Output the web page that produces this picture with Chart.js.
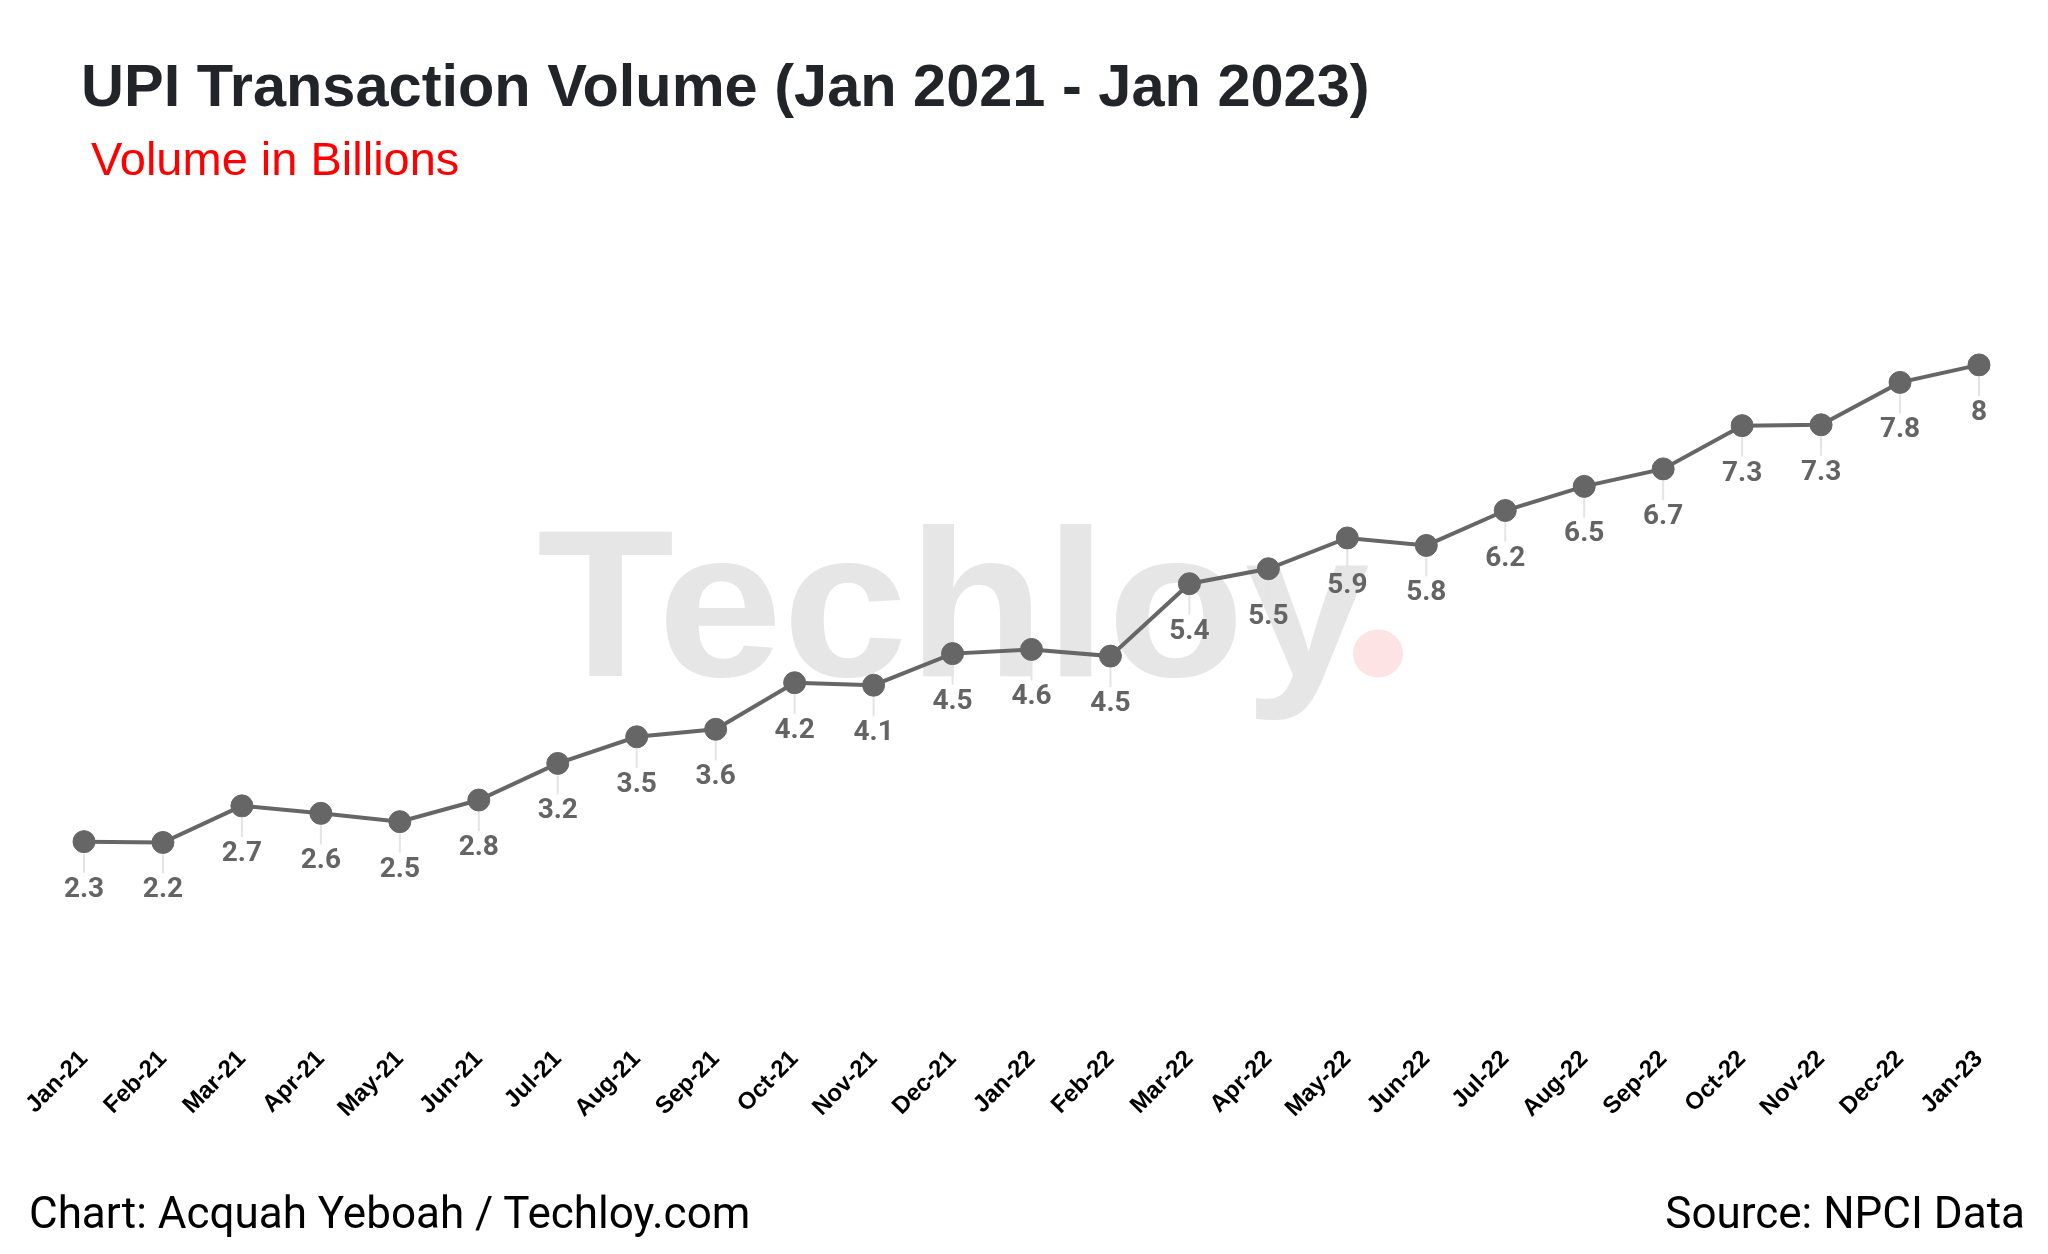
<!DOCTYPE html>
<html>
<head>
<meta charset="utf-8">
<script src="https://cdn.jsdelivr.net/npm/chart.js@4.4.0/dist/chart.umd.min.js"></script>
<style>
html,body{margin:0;padding:0;background:#fff;}
#wrap{position:relative;width:2048px;height:1254px;overflow:hidden;background:#fff;}
#c{position:absolute;left:0;top:0;}
.t{position:absolute;white-space:nowrap;line-height:1;}
#title{left:81px;top:51px;font:bold 59.5px "Liberation Sans",Arial,sans-serif;color:#212529;}
#sub{left:91px;top:131px;font:47px "Liberation Sans",Arial,sans-serif;color:#ff0000;}
#credit{left:29px;top:1187px;font:44px Roboto,sans-serif;color:#000;}
#source{right:23px;top:1187px;font:44px Roboto,sans-serif;color:#000;}
</style>
</head>
<body>
<div id="wrap">
  <canvas id="c" width="2048" height="1254"></canvas>
  <div class="t" id="title">UPI Transaction Volume (Jan 2021 - Jan 2023)</div>
  <div class="t" id="sub">Volume in Billions</div>
  <div class="t" id="credit">Chart: Acquah Yeboah / Techloy.com</div>
  <div class="t" id="source">Source: NPCI Data</div>
</div>
<script>
const months = ['Jan-21','Feb-21','Mar-21','Apr-21','May-21','Jun-21','Jul-21','Aug-21','Sep-21','Oct-21','Nov-21','Dec-21',
                'Jan-22','Feb-22','Mar-22','Apr-22','May-22','Jun-22','Jul-22','Aug-22','Sep-22','Oct-22','Nov-22','Dec-22','Jan-23'];
const volumes = [2.30, 2.29, 2.73, 2.64, 2.54, 2.80, 3.24, 3.56, 3.65, 4.21, 4.18, 4.56,
                 4.61, 4.53, 5.40, 5.58, 5.95, 5.86, 6.28, 6.57, 6.78, 7.30, 7.31, 7.82, 8.03];
const valueLabels = ['2.3','2.2','2.7','2.6','2.5','2.8','3.2','3.5','3.6','4.2','4.1','4.5',
                     '4.6','4.5','5.4','5.5','5.9','5.8','6.2','6.5','6.7','7.3','7.3','7.8','8'];
const yMin = 0, yMax = 10;

const watermark = {
  id: 'watermark',
  beforeDatasetsDraw(chart) {
    const ctx = chart.ctx;
    ctx.save();
    ctx.fillStyle = '#e6e6e6';
    ctx.font = 'bold 209px "Liberation Sans", Arial, sans-serif';
    ctx.textBaseline = 'alphabetic';
    ctx.textAlign = 'left';
    ctx.translate(537, 676);
    ctx.scale(1.075, 1);
    ctx.fillText('Techloy', 0, 0);
    ctx.restore();
    ctx.save();
    ctx.fillStyle = '#fde3e3';
    ctx.beginPath();
    ctx.ellipse(1378, 653.5, 25, 24, 0, 0, Math.PI * 2);
    ctx.fill();
    ctx.restore();
  }
};

const valueTags = {
  id: 'valueTags',
  beforeDatasetsDraw(chart) {
    const ctx = chart.ctx;
    const meta = chart.getDatasetMeta(0);
    ctx.save();
    ctx.strokeStyle = '#e4e4e4';
    ctx.lineWidth = 2;
    meta.data.forEach(p => {
      ctx.beginPath();
      ctx.moveTo(p.x, p.y + 12);
      ctx.lineTo(p.x, p.y + 31);
      ctx.stroke();
    });
    ctx.restore();
  },
  afterDatasetsDraw(chart) {
    const ctx = chart.ctx;
    const meta = chart.getDatasetMeta(0);
    ctx.save();
    ctx.fillStyle = '#646464';
    ctx.font = 'bold 28px Roboto, sans-serif';
    ctx.textAlign = 'center';
    ctx.textBaseline = 'middle';
    meta.data.forEach((p, i) => {
      ctx.fillText(valueLabels[i], p.x, p.y + 48);
    });
    ctx.restore();
  }
};

new Chart(document.getElementById('c'), {
  type: 'line',
  data: {
    labels: months,
    datasets: [{
      data: volumes,
      borderColor: '#666666',
      backgroundColor: '#666666',
      borderWidth: 4,
      pointRadius: 11,
      pointBorderWidth: 1,
      pointBackgroundColor: '#666666',
      pointBorderColor: '#666666',
      tension: 0,
      clip: false
    }]
  },
  options: {
    responsive: false,
    devicePixelRatio: 1,
    animation: false,
    layout: { padding: { top: 201, left: 84, right: 69, bottom: 91 } },
    plugins: { legend: { display: false }, tooltip: { enabled: false }, title: { display: false } },
    scales: {
      x: {
        grid: { display: false, drawTicks: false },
        border: { display: false },
        ticks: {
          minRotation: 45, maxRotation: 45, padding: 12, autoSkip: false,
          color: '#000',
          font: { family: '"Liberation Sans", Arial, sans-serif', size: 24, weight: 'bold' }
        },
        afterFit(scale) { scale.height = 130; }
      },
      y: { display: false, min: yMin, max: yMax }
    }
  },
  plugins: [watermark, valueTags]
});
</script>
</body>
</html>
